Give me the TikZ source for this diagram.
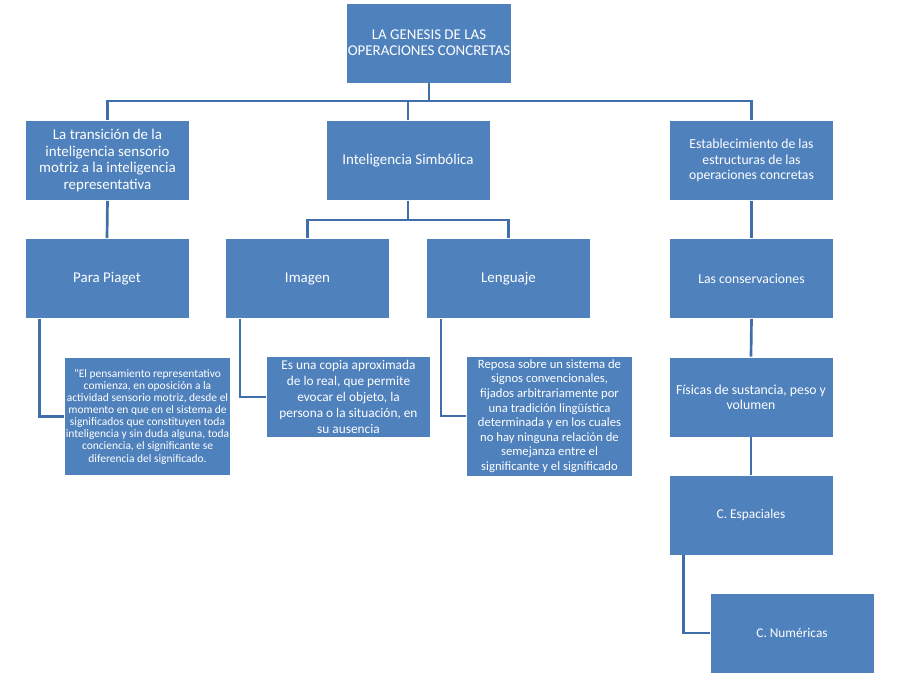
\documentclass[tikz,border=0pt]{standalone}
\usepackage{fontspec}
\setmainfont{Carlito}
\usepackage{tikz}
\usetikzlibrary{calc}
\definecolor{boxblue}{RGB}{79,129,189}
\definecolor{linkblue}{RGB}{64,110,170}
\tikzset{
    box/.style={rectangle, fill=boxblue, draw=white, line width=0.6pt,
        text=white, align=center, inner sep=1pt,
        minimum width=123pt, minimum height=60pt},
    link/.style={draw=linkblue, line width=2pt},
    big/.style={font=\fontsize{11.2}{12.3}\selectfont},
    mid/.style={font=\fontsize{10.3}{11.4}\selectfont},
    small/.style={font=\fontsize{8.6}{9.1}\selectfont}
}
\begin{document}
\begin{tikzpicture}[x=0.75pt,y=-0.75pt]
    \useasboundingbox[fill=white] (0,0) rectangle (900,680);
    % top
    \node[box,big] (root) at (429,43) {LA GENESIS DE LAS\\OPERACIONES CONCRETAS};
    \node[box,big] (trans) at (107.5,160.5) {La transición de la\\inteligencia  sensorio\\motriz a la inteligencia\\representativa};
    \node[box,big] (simb) at (408,160.5) {Inteligencia Simbólica};
    \node[box,mid] (estab) at (751.5,160.5) {Establecimiento de las\\estructuras de las\\operaciones concretas};
    % second row
    \node[box,big] (piaget) at (107,278.5) {Para Piaget};
    \node[box,big] (imagen) at (307.5,278.5) {Imagen};
    \node[box,big] (lenguaje) at (508.5,278.5) {Lenguaje};
    \node[box,mid] (conserv) at (751.5,278.5) {Las conservaciones};
    % descriptions
    \node[box,small,minimum height=89pt,minimum width=122pt] (cita) at (147.5,416.5)
        {“El pensamiento representativo\\comienza, en oposición a la\\actividad sensorio motriz, desde el\\momento en que en el sistema  de\\significados que  constituyen toda\\inteligencia y sin duda alguna, toda\\conciencia, el significante se\\diferencia del significado.};
    \node[box,font=\fontsize{10}{12.1}\selectfont,minimum height=61pt] (copia) at (348.5,397)
        {Es una copia aproximada\\de lo real, que permite\\evocar el objeto, la\\persona o la situación, en\\su ausencia};
    \node[box,font=\fontsize{9.5}{10.9}\selectfont,minimum height=90pt,minimum width=124pt] (signos) at (549.5,416)
        {Reposa sobre un sistema de\\signos convencionales,\\fijados arbitrariamente por\\una tradición lingüística\\determinada y en los cuales\\no hay ninguna relación de\\semejanza entre el\\significante y el significado};
    \node[box,mid] (fisicas) at (751,397) {Físicas de sustancia, peso y\\volumen};
    \node[box,font=\fontsize{10}{11}\selectfont] (espac) at (751,515) {C. Espaciales};
    \node[box,font=\fontsize{10}{11}\selectfont] (numer) at (792,633) {C. Numéricas};

    % connectors
    \coordinate (bar) at (429,101);
    \coordinate (split) at (408,220);
    \draw[link] (root.south) -- (bar);
    \draw[link] (trans.north) |- (bar) -| (estab.north);
    \draw[link] (simb.north) -- (simb.north |- bar);
    \draw[link] (trans.south) -- (piaget.north);
    \draw[link] (simb.south) -- (split);
    \draw[link] (imagen.north) |- (split) -| (lenguaje.north);
    \draw[link] (estab.south) -- (conserv.north);
    \draw[link] ($(piaget.south west)+(15,0)$) |- (cita.west);
    \draw[link] ($(imagen.south west)+(15,0)$) |- (copia.west);
    \draw[link] ($(lenguaje.south west)+(15,0)$) |- (signos.west);
    \draw[link] (conserv.south) -- (fisicas.north);
    \draw[link] (fisicas.south) -- (espac.north);
    \draw[link] ($(espac.south west)+(15,0)$) |- (numer.west);
\end{tikzpicture}
\end{document}
